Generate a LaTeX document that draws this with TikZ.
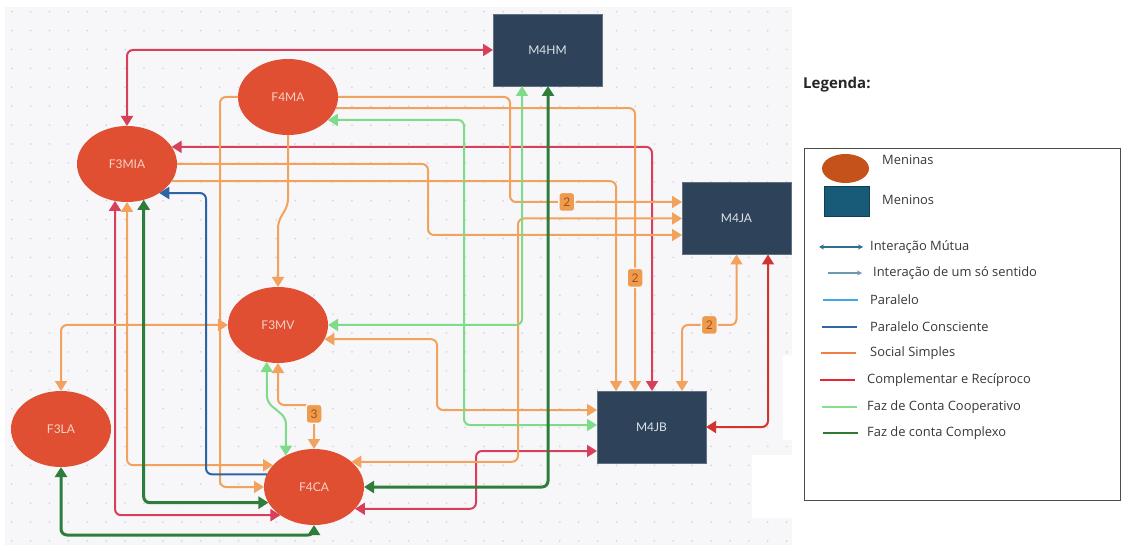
\documentclass[tikz,border=0pt]{standalone}
\usepackage{fontspec}
\setmainfont{Open Sans}
\newfontfamily\latofont{Lato}
\usetikzlibrary{arrows.meta,shapes.geometric}

\definecolor{panelbg}{HTML}{F7F7FA}
\definecolor{dotgray}{HTML}{D5D7DE}
\definecolor{girlred}{HTML}{E04F32}
\definecolor{girltxt}{HTML}{F6D3C7}
\definecolor{boynavy}{HTML}{2E4259}
\definecolor{boytxt}{HTML}{DDE3EA}
\definecolor{socor}{HTML}{F2A25C}
\definecolor{cplred}{HTML}{D6405A}
\definecolor{cplred2}{HTML}{D2352F}
\definecolor{coopgreen}{HTML}{7EDB8A}
\definecolor{compgreen}{HTML}{2F7D3B}
\definecolor{consblue}{HTML}{2C64A4}
\definecolor{badgeor}{HTML}{EF9B4D}
\definecolor{badgetxt}{HTML}{A0521C}
% legend colours
\definecolor{lgbrown}{HTML}{C5521B}
\definecolor{lgteal}{HTML}{175B78}
\definecolor{lgarrow}{HTML}{2F6F8E}
\definecolor{lgpar}{HTML}{3FA9E0}
\definecolor{lgcons}{HTML}{2F66A6}
\definecolor{lgsoc}{HTML}{EF7F45}
\definecolor{lgcpl}{HTML}{E8262E}
\definecolor{lgcoop}{HTML}{86E08F}
\definecolor{lgcomp}{HTML}{2E7A30}
\definecolor{lgtext}{HTML}{383838}

\tikzset{
  >={Triangle[length=10pt,width=12pt]},
  girl/.style={ellipse,fill=girlred,minimum width=100pt,minimum height=76pt,
    inner sep=0pt,outer sep=0pt,text=girltxt,font=\latofont\fontsize{12}{14}\selectfont},
  boy/.style={rectangle,fill=boynavy,draw=boynavy!75!white,line width=0.6pt,
    minimum width=109pt,minimum height=72pt,inner sep=0pt,outer sep=0pt,
    text=boytxt,font=\latofont\fontsize{12}{14}\selectfont},
  link/.style={line width=2pt,rounded corners=6pt},
  soc/.style={link,draw=socor},
  cpl/.style={link,draw=cplred},
  cplb/.style={link,draw=cplred2},
  fcoop/.style={link,draw=coopgreen},
  fcomp/.style={link,draw=compgreen,line width=3pt},
  pcons/.style={link,draw=consblue},
  badge/.style={rectangle,rounded corners=3pt,fill=badgeor,draw=panelbg,line width=1.5pt,
    minimum width=16pt,minimum height=19pt,inner sep=0pt,text=badgetxt,
    font=\latofont\fontsize{12}{13}\selectfont},
  lgtxt/.style={anchor=west,inner sep=0pt,text=lgtext,font=\fontsize{12.9}{15}\selectfont},
  lgline/.style={line width=1.3pt}
}

\begin{document}
\begin{tikzpicture}[x=1pt,y=-1pt]
\useasboundingbox (0,0) rectangle (1122,545);

% === dotted canvas ===
\fill[panelbg] (5,7) rectangle (792,545);
\foreach \i in {0,...,41}
  \foreach \j in {0,...,28}
    \fill[dotgray] (11.7+18.9*\i,11.7+18.9*\j) circle (1pt);
\fill[white] (783,355) rectangle (792,440);
\fill[white] (752,455) rectangle (792,518);

% === children ===
\node[girl] (F4MA)  at (288,97)  {F4MA};
\node[girl] (F3MIA) at (127,164) {F3MIA};
\node[girl] (F3MV)  at (278,325) {F3MV};
\node[girl] (F3LA)  at (61,429)  {F3LA};
\node[girl] (F4CA)  at (314,487) {F4CA};
\node[boy]  (M4HM)  at (547.5,50)    {M4HM};
\node[boy]  (M4JA)  at (736.5,218.5) {M4JA};
\node[boy]  (M4JB)  at (651.5,427)   {M4JB};

% === complementar e reciproco ===
\draw[cpl,<->] (F3MIA.north) |- (M4HM.west);
\draw[cpl,<->] (F3MIA.21) -| (652,0 |- M4JB.north);
\draw[cpl,<->] (F3MIA.-108) |- (F4CA.-140);
\draw[cpl,<->] (F4CA.-28) -| (476,451) -- (M4JB.west |- 0,451);
\draw[cplb,<->] (768,0 |- M4JA.south) |- (M4JB.east);

% === social simples ===
\draw[soc,->] (F4MA.east) -| (510,202) -- node[badge,pos=0.33] (b1) {2} (M4JA.west |- 0,202);
\draw[soc,->] (F4MA.-13) -| node[badge,pos=0.8] (b2) {2} (635,0 |- M4JB.north);
\draw[soc,->] (F4MA.south) -- (288,205) -- (278,222) -- (F3MV.north);
\draw[soc,->] (F4MA.west) -| (220,487) -- (F4CA.west);
\draw[soc,->] (F3MIA.east) -| (428,235) -- (M4JA.west |- 0,235);
\draw[soc,->] (F3MIA.-21) -| (616,0 |- M4JB.north);
\draw[soc,<->] (F3MIA.south) |- (F4CA.152);
\draw[soc,<->] (F4CA.34) -| (518,0 |- M4JA.west) -- (M4JA.west);
\draw[soc,<->] (F3MV.-17) -| (437,410) -- (M4JB.west |- 0,410);
\draw[soc,<->] (M4JA.south) |- node[badge,pos=0.75] (b3) {2} (682,325) -- (682,0 |- M4JB.north);
\draw[soc,<->] (F3LA.north) |- (F3MV.west);
\draw[soc,<->] (F3MV.south) |- (F4CA.north |- 0,405) -- node[badge,pos=0.2] (b4) {3} (F4CA.north);

% === faz de conta cooperativo ===
\draw[fcoop,<->] (F4MA.-30) -| (464,425) -- (M4JB.west |- 0,425);
\draw[fcoop,<->] (F3MV.east) -| (522,0 |- M4HM.south);
\draw[fcoop,<->] (F3MV.-107) -- (267,402) -- (286,418) -- (F4CA.132);

% === faz de conta complexo ===
\draw[fcomp,<->] (F4CA.east) -| (548,0 |- M4HM.south);
\draw[fcomp,<->] (F3MIA.-65) |- (F4CA.-161);
\draw[fcomp,<->] (F3LA.south) |- (F4CA.south |- 0,535) -- (F4CA.south);

% === paralelo consciente ===
\draw[pcons,->] (F4CA.165) -| (206,0 |- F3MIA.-42) -- (F3MIA.-42);

% === legend ===
\node[anchor=west,inner sep=0pt,text=black!85,font=\bfseries\fontsize{15}{18}\selectfont] (lgTitle) at (803,85) {Legenda:};
\draw[black!70,line width=0.8pt] (804,148) rectangle (1120,500);

\node[ellipse,fill=lgbrown,minimum width=47pt,minimum height=29pt,inner sep=0pt] (lgGirl) at (845.5,168.5) {};
\node[lgtxt] (lgMeninas) at (882,160) {Meninas};
\node[rectangle,fill=lgteal,draw=lgteal!70!black,minimum width=45pt,minimum height=30pt,inner sep=0pt] (lgBoy) at (846.5,201) {};
\node[lgtxt] (lgMeninos) at (882,200) {Meninos};

\draw[lgarrow,lgline,{Stealth[length=5pt,width=5pt]}-{Stealth[length=5pt,width=5pt]}] (819,247) -- (863,247);
\node[lgtxt] (lgMutua) at (870,247) {Interação Mútua};
\draw[lgarrow!70!white,lgline,-{Stealth[length=5pt,width=5pt]}] (828,273) -- (862,273);
\node[lgtxt] (lgSentido) at (873,273) {Interação de um só sentido};
\draw[lgpar,lgline] (823,300) -- (858,300);
\node[lgtxt] (lgParalelo) at (870,300) {Paralelo};
\draw[lgcons,lgline] (822,327) -- (857,327);
\node[lgtxt] (lgConsciente) at (870,327) {Paralelo Consciente};
\draw[lgsoc,lgline] (821,353) -- (856,353);
\node[lgtxt] (lgSocial) at (870,353) {Social Simples};
\draw[lgcpl,lgline] (820,380) -- (855,380);
\node[lgtxt] (lgCompl) at (867,380) {Complementar e Recíproco};
\draw[lgcoop,lgline] (822,407) -- (857,407);
\node[lgtxt] (lgCoop) at (867,407) {Faz de Conta Cooperativo};
\draw[lgcomp,lgline] (823,433) -- (858,433);
\node[lgtxt] (lgComplexo) at (867,433) {Faz de conta Complexo};

\end{tikzpicture}
\end{document}
